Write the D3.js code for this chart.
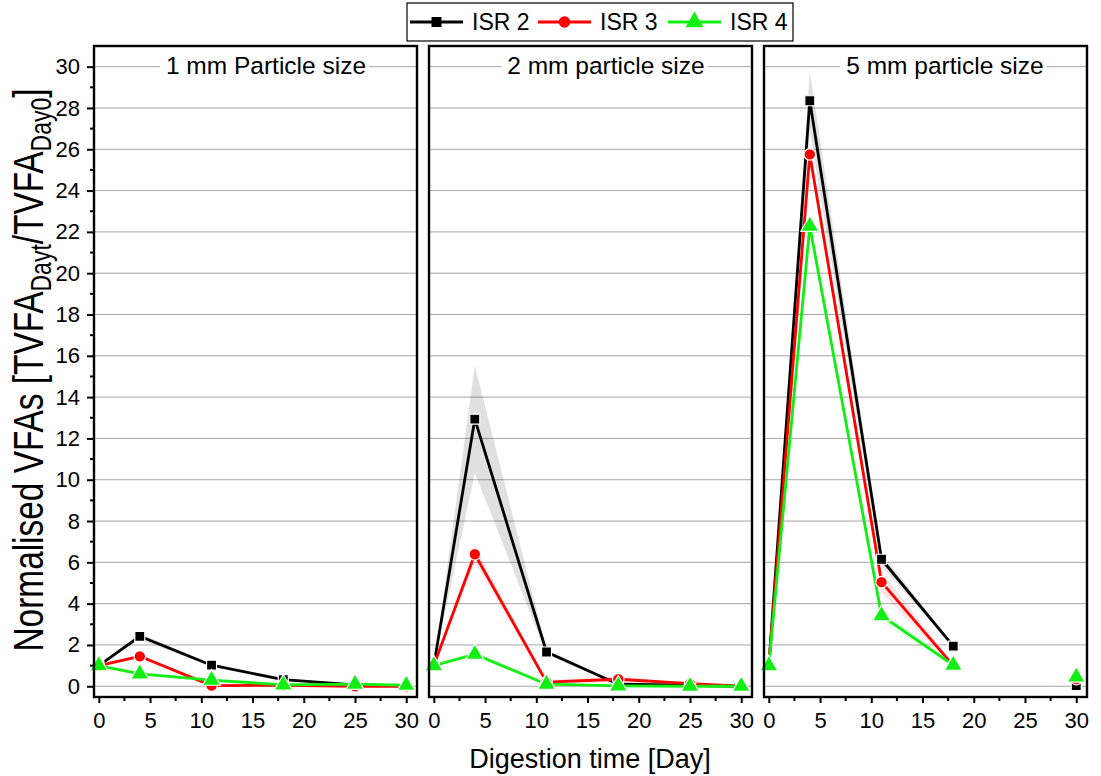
<!DOCTYPE html>
<html>
<head>
<meta charset="utf-8">
<script src="https://d3js.org/d3.v7.min.js"></script>
<style>
  body { margin: 0; background: #fff; }
  svg text { font-family: "Liberation Sans", Arial, sans-serif; fill: #000; }
</style>
</head>
<body>
<div id="chart"></div>
<script>
// digestion days sampled
const days = [0, 4, 11, 18, 25, 30];

const panelTitles = ["1 mm Particle size", "2 mm particle size", "5 mm particle size"];
const seriesNames = ["ISR 2", "ISR 3", "ISR 4"];

// normalised TVFA, one array per ISR and particle size (null = no sample)
const isr2_1mm = [1.0, 2.42, 1.02, 0.32, 0.07, 0.02];
const isr3_1mm = [1.0, 1.45, 0.03, 0.05, 0.0, 0.0];
const isr4_1mm = [1.0, 0.60, 0.30, 0.07, 0.10, 0.05];

const isr2_2mm = [1.0, 12.93, 1.66, 0.10, 0.05, 0.0];
const isr3_2mm = [1.0, 6.39, 0.20, 0.34, 0.13, 0.0];
const isr4_2mm = [1.0, 1.55, 0.10, 0.02, 0.0, 0.0];

const isr2_5mm = [1.0, 28.35, 6.15, 1.94, null, 0.03];
const isr3_5mm = [1.0, 25.75, 5.04, 1.00, null, 0.35];
const isr4_5mm = [1.0, 22.28, 3.42, 1.02, null, 0.45];

// standard deviations (shaded bands)
const isr2_1mm_sd = [0, 0.15, 0.06, 0.05, 0.02, 0];
const isr3_1mm_sd = [0, 0.10, 0.04, 0.04, 0.02, 0];
const isr4_1mm_sd = [0, 0.06, 0.05, 0.03, 0.02, 0];

const isr2_2mm_sd = [0, 2.6, 0.12, 0.05, 0.02, 0];
const isr3_2mm_sd = [0, 0.4, 0.10, 0.15, 0.05, 0];
const isr4_2mm_sd = [0, 0.15, 0.05, 0.04, 0.02, 0];

const isr2_5mm_sd = [0, 1.45, 0.30, 0.06, null, 0];
const isr3_5mm_sd = [0, 0.35, 0.50, 0.10, null, 0];
const isr4_5mm_sd = [0, 0.20, 0.30, 0.10, null, 0];

const xTicks = [0, 5, 10, 15, 20, 25, 30];
const yTicks = [0, 2, 4, 6, 8, 10, 12, 14, 16, 18, 20, 22, 24, 26, 28, 30];

const panels = [
    [isr2_1mm, isr3_1mm, isr4_1mm],
    [isr2_2mm, isr3_2mm, isr4_2mm],
    [isr2_5mm, isr3_5mm, isr4_5mm]
];
const panelErrors = [
    [isr2_1mm_sd, isr3_1mm_sd, isr4_1mm_sd],
    [isr2_2mm_sd, isr3_2mm_sd, isr4_2mm_sd],
    [isr2_5mm_sd, isr3_5mm_sd, isr4_5mm_sd]
];

const colors    = ["#000000", "#ff0000", "#11ee11"];
const bandFills = ["rgba(0,0,0,0.12)", "rgba(255,0,0,0.10)", "rgba(0,230,0,0.10)"];
const shapes    = [d3.symbolSquare, d3.symbolCircle, d3.symbolTriangle];
const sizes     = [100, 105, 140];

///////////
/// Box ///
///////////

const width  = 1101;
const height = 776;
const panelLeft = [94, 429, 764];
const titleCentre = [172, 177, 181];
const panelW = 323;
const plotTop = 46;
const plotBottom = 697;

let svg = d3.select("#chart")
    .append("svg")
    .attr("width", width)
    .attr("height", height);

let y = d3.scaleLinear()
    .domain([-0.52, 31.0])
    .range([plotBottom, plotTop]);

panels.forEach((series, p) => {
    let x = d3.scaleLinear()
        .domain([-0.47, 31.05])
        .range([panelLeft[p], panelLeft[p] + panelW]);

    let g = svg.append("g");

    // grid
    g.selectAll("line.grid")
        .data(yTicks)
        .enter()
        .append("line")
        .attr("x1", panelLeft[p])
        .attr("x2", panelLeft[p] + panelW)
        .attr("y1", d => y(d))
        .attr("y2", d => y(d))
        .attr("stroke", "#a6a6a6")
        .attr("stroke-width", 1);

    // bands
    series.forEach((vals, s) => {
        let pts = days.map((d, i) => ({x: d, y: vals[i], e: panelErrors[p][s][i]}));
        g.append("path")
            .datum(pts)
            .attr("fill", bandFills[s])
            .attr("d", d3.area()
                .defined(d => d.y !== null)
                .x(d => x(d.x))
                .y0(d => y(d.y - d.e))
                .y1(d => y(d.y + d.e)));
    });

    // lines + markers
    series.forEach((vals, s) => {
        let pts = days.map((d, i) => ({x: d, y: vals[i]}));
        g.append("path")
            .datum(pts)
            .attr("fill", "none")
            .attr("stroke", colors[s])
            .attr("stroke-width", 2.8)
            .attr("stroke-linejoin", "round")
            .attr("d", d3.line()
                .defined(d => d.y !== null)
                .x(d => x(d.x))
                .y(d => y(d.y)));
    });
    series.forEach((vals, s) => {
        let pts = days.map((d, i) => ({x: d, y: vals[i]})).filter(d => d.y !== null);
        g.selectAll("path.m" + s)
            .data(pts)
            .enter()
            .append("path")
            .attr("d", d3.symbol().type(shapes[s]).size(sizes[s]))
            .attr("transform", d => "translate(" + x(d.x) + "," + y(d.y) + ")")
            .attr("fill", colors[s])
            .attr("stroke", "#fff")
            .attr("stroke-width", 1.2);
    });

    // title with white backing over the top gridline
    let title = g.append("text")
        .attr("x", panelLeft[p] + titleCentre[p])
        .attr("y", 74)
        .attr("text-anchor", "middle")
        .attr("font-size", 24.5)
        .text(panelTitles[p]);
    let bb = title.node().getBBox();
    g.insert("rect", "text")
        .attr("x", bb.x - 6)
        .attr("y", bb.y)
        .attr("width", bb.width + 9)
        .attr("height", bb.height)
        .attr("fill", "#fff");

    // x axis
    let xAxis = g.append("g")
        .attr("transform", "translate(0," + plotBottom + ")")
        .call(d3.axisBottom(x).tickValues(xTicks).tickSize(6).tickPadding(9).tickFormat(d3.format("d")));
    xAxis.select(".domain").remove();
    xAxis.selectAll("line").attr("stroke-width", 2);
    xAxis.selectAll("text").attr("font-size", 22).attr("font-family", "Liberation Sans, Arial, sans-serif");
    g.selectAll("line.xminor")
        .data(xTicks.slice(0, -1))
        .enter()
        .append("line")
        .attr("x1", d => x(d + 2.5))
        .attr("x2", d => x(d + 2.5))
        .attr("y1", plotBottom)
        .attr("y2", plotBottom + 4)
        .attr("stroke", "#000")
        .attr("stroke-width", 2);

    // y axis (first panel only)
    if (p === 0) {
        let yAxis = g.append("g")
            .attr("transform", "translate(" + panelLeft[p] + ",0)")
            .call(d3.axisLeft(y).tickValues(yTicks).tickSize(7).tickPadding(7));
        yAxis.select(".domain").remove();
        yAxis.selectAll("line").attr("stroke-width", 2);
        yAxis.selectAll("text").attr("font-size", 22).attr("font-family", "Liberation Sans, Arial, sans-serif");
        g.selectAll("line.yminor")
            .data(yTicks.slice(0, -1))
            .enter()
            .append("line")
            .attr("x1", panelLeft[p] - 4)
            .attr("x2", panelLeft[p])
            .attr("y1", d => y(d + 1))
            .attr("y2", d => y(d + 1))
            .attr("stroke", "#000")
            .attr("stroke-width", 2);
    }

    // frame
    g.append("rect")
        .attr("x", panelLeft[p])
        .attr("y", plotTop)
        .attr("width", panelW)
        .attr("height", plotBottom - plotTop)
        .attr("fill", "none")
        .attr("stroke", "#000")
        .attr("stroke-width", 2.4);
});

//////////////
/// Labels ///
//////////////

// glyphs in the original are drawn taller than normal, hence the scale
let yLabel = svg.append("text")
    .attr("transform", "translate(43,370) rotate(-90) scale(1,1.25)")
    .attr("text-anchor", "middle")
    .attr("font-size", 33.4);
yLabel.append("tspan").text("Normalised VFAs [TVFA");
yLabel.append("tspan").attr("font-size", 23).attr("dy", 6).text("Dayt");
yLabel.append("tspan").attr("dy", -6).text("/TVFA");
yLabel.append("tspan").attr("font-size", 23).attr("dy", 6).text("Day0");
yLabel.append("tspan").attr("dy", -6).text("]");

svg.append("text")
    .attr("x", 590)
    .attr("y", 768)
    .attr("text-anchor", "middle")
    .attr("font-size", 27)
    .text("Digestion time [Day]");

//////////////
/// Legend ///
//////////////

let legend = svg.append("g");
legend.append("rect")
    .attr("x", 407)
    .attr("y", 3)
    .attr("width", 386)
    .attr("height", 38)
    .attr("fill", "#fff")
    .attr("stroke", "#000")
    .attr("stroke-width", 1.2);

const legendX = [410, 538, 668];
seriesNames.forEach((name, s) => {
    let lx = legendX[s];
    legend.append("line")
        .attr("x1", lx).attr("x2", lx + 53)
        .attr("y1", 22).attr("y2", 22)
        .attr("stroke", colors[s])
        .attr("stroke-width", 2.8);
    legend.append("path")
        .attr("d", d3.symbol().type(shapes[s]).size(sizes[s]))
        .attr("transform", "translate(" + (lx + 26.5) + ",22)")
        .attr("fill", colors[s]);
    legend.append("text")
        .attr("x", lx + 62)
        .attr("y", 30)
        .attr("font-size", 23)
        .text(name);
});
</script>
</body>
</html>
